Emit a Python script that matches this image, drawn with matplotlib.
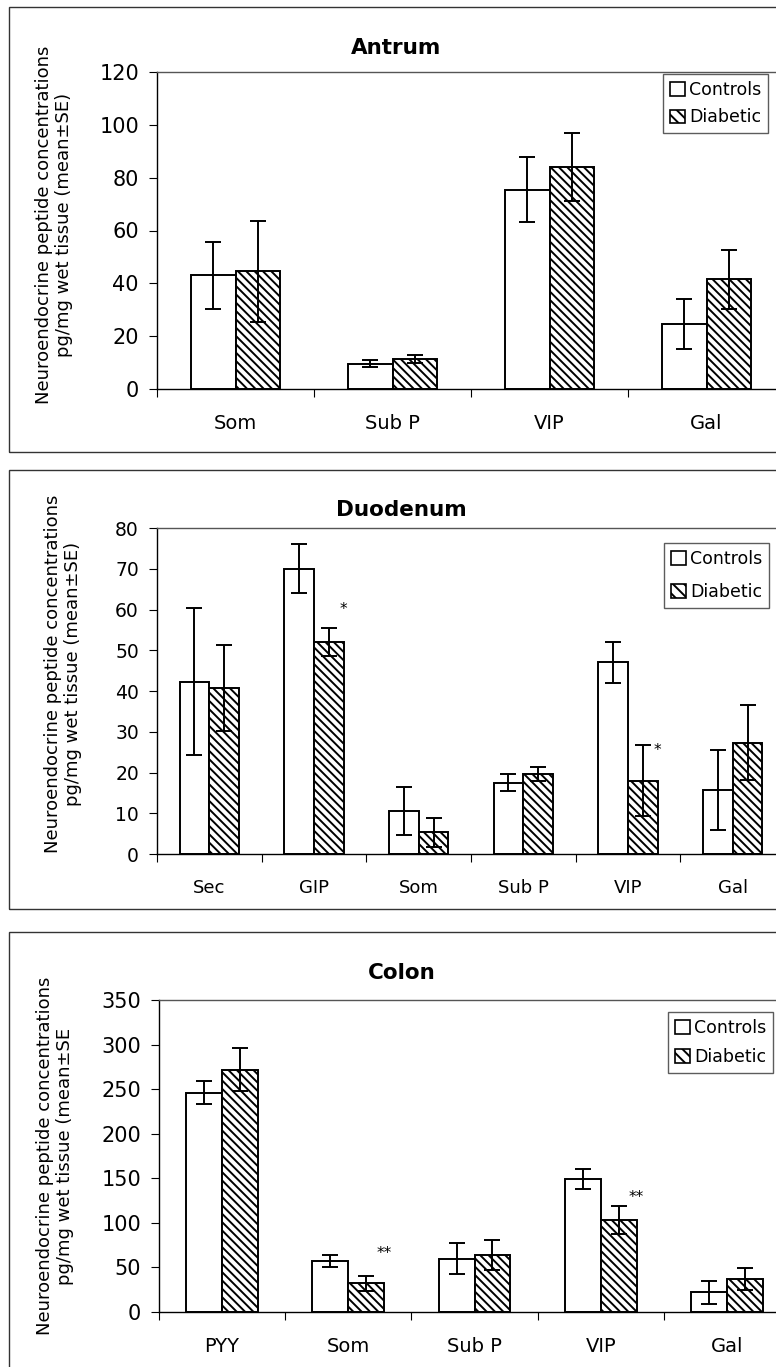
import matplotlib
matplotlib.use("Agg")
import matplotlib.pyplot as plt
from matplotlib.patches import Rectangle, Patch
import numpy as np

W, H = 776, 1367
plt.rcParams['font.family'] = ['DejaVu Sans']
plt.rcParams['hatch.linewidth'] = 1.4

# ---- data ----
antrum_cats = ["Som", "Sub P", "VIP", "Gal"]
antrum_ctrl = [43, 9.5, 75.5, 24.5]
antrum_ctrl_se = [12.8, 1.3, 12.3, 9.5]
antrum_diab = [44.5, 11.5, 84, 41.5]
antrum_diab_se = [19, 1.5, 13, 11.3]

duo_cats = ["Sec", "GIP", "Som", "Sub P", "VIP", "Gal"]
duo_ctrl = [42.3, 70, 10.5, 17.5, 47, 15.8]
duo_ctrl_se = [18, 6, 5.9, 2.1, 5, 9.8]
duo_diab = [40.7, 52, 5.3, 19.7, 18, 27.3]
duo_diab_se = [10.5, 3.5, 3.5, 1.7, 8.7, 9.2]
duo_sig = ["", "*", "", "", "*", ""]
duo_sig_y = [0, 60, 0, 0, 25.5, 0]

colon_cats = ["PYY", "Som", "Sub P", "VIP", "Gal"]
colon_ctrl = [246, 57, 60, 149, 22]
colon_ctrl_se = [13, 6.5, 17.5, 11.5, 13]
colon_diab = [272, 32, 64, 103, 37]
colon_diab_se = [24, 8, 16.5, 15.5, 12]
colon_sig = ["", "**", "", "**", ""]
colon_sig_y = [0, 66, 0, 129, 0]

fig = plt.figure(figsize=(W / 100, H / 100), dpi=100)


def fx(px):
    return px / W


def fy(py):
    return 1 - py / H


def px_axes(x0, y0, x1, y1):
    return fig.add_axes([x0 / W, 1 - y1 / H, (x1 - x0) / W, (y1 - y0) / H])


def frame(y0, y1):
    r = Rectangle((fx(9), fy(y1)), (W + 40) / W, (y1 - y0) / H,
                  transform=fig.transFigure, fill=False, edgecolor='#333333',
                  linewidth=1.0, clip_on=False)
    fig.patches.append(r)


def panel(rect, title, title_xy, title_fs, cats, ctrl, ctrl_se, diab, diab_se,
          ymax, ystep, ylabel2, ylabel_xy, legend_xy, legend_sp,
          sig=None, sig_y=None, fs=15, xfs=14):
    ax = px_axes(*rect)
    n = len(cats)
    x = np.arange(n)
    w = 0.285
    ekw = dict(ecolor='black', elinewidth=1.4, capsize=5.5, capthick=1.4)
    ax.bar(x - w / 2, ctrl, w, color='white', edgecolor='black', linewidth=1.4,
           yerr=ctrl_se, error_kw=ekw, label='Controls')
    ax.bar(x + w / 2, diab, w, color='white', edgecolor='black', linewidth=1.4,
           hatch='\\\\\\\\', yerr=diab_se, error_kw=ekw, label='Diabetic')
    if sig is not None:
        for i, (s, sy) in enumerate(zip(sig, sig_y)):
            if s:
                ax.text(i + w, sy, s, ha='center', va='center', fontsize=11)
    ax.set_xlim(-0.5, n - 0.5)
    ax.set_ylim(0, ymax)
    ax.set_yticks(np.arange(0, ymax + 1, ystep))
    ax.set_xticks(np.arange(n + 1) - 0.5)
    ax.set_xticklabels([])
    ax.set_xticks(x, minor=True)
    ax.set_xticklabels(cats, minor=True, fontsize=xfs)
    ax.tick_params(axis='x', which='major', direction='out', length=6, width=0.8)
    ax.tick_params(axis='x', which='minor', length=0, pad=18)
    ax.tick_params(axis='y', direction='out', length=6, width=0.8, labelsize=fs, pad=7)
    for s in ax.spines.values():
        s.set_linewidth(1.0)
    ax.spines['top'].set_color('#555555')
    fig.text(fx(title_xy[0]), fy(title_xy[1]), title, fontsize=title_fs,
             fontweight='bold', ha='center', va='center')
    fig.text(fx(ylabel_xy[0]), fy(ylabel_xy[1]),
             "Neuroendocrine peptide concentrations\n" + ylabel2,
             rotation=90, fontsize=13, ha='center', va='center', linespacing=1.2)
    handles = [Patch(facecolor='white', edgecolor='black', linewidth=1.2),
               Patch(facecolor='white', edgecolor='black', linewidth=1.2, hatch='\\\\\\')]
    leg = fig.legend(handles, ['Controls', 'Diabetic'], loc='upper left',
                     bbox_to_anchor=(fx(legend_xy[0]), fy(legend_xy[1])),
                     fontsize=12.5, frameon=True, fancybox=False, edgecolor='#333333',
                     handlelength=0.85, handleheight=0.85, handletextpad=0.25,
                     borderpad=0.4, labelspacing=legend_sp, borderaxespad=0)
    leg.get_frame().set_linewidth(1.0)
    return ax


frame(7, 452)
panel((157, 72, 785, 389), "Antrum", (396, 48), 15.5, antrum_cats, antrum_ctrl,
      antrum_ctrl_se, antrum_diab, antrum_diab_se, 120, 20,
      "pg/mg wet tissue (mean\u00b1SE)", (54, 225), (663, 74), 0.55, fs=15, xfs=14)

frame(470, 909)
panel((157, 528, 785, 854), "Duodenum", (401, 510), 15.5, duo_cats, duo_ctrl,
      duo_ctrl_se, duo_diab, duo_diab_se, 80, 10,
      "pg/mg wet tissue (mean\u00b1SE)", (63, 674), (664, 543), 0.85,
      sig=duo_sig, sig_y=duo_sig_y, fs=13.5, xfs=13)

frame(932, 1400)
panel((159, 1000, 790, 1312), "Colon", (402, 973), 15.5, colon_cats, colon_ctrl,
      colon_ctrl_se, colon_diab, colon_diab_se, 350, 50,
      "pg/mg wet tissue (mean\u00b1SE", (55, 1156), (668, 1012), 0.62,
      sig=colon_sig, sig_y=colon_sig_y, fs=15, xfs=14)

fig.savefig("out.png", dpi=100)
